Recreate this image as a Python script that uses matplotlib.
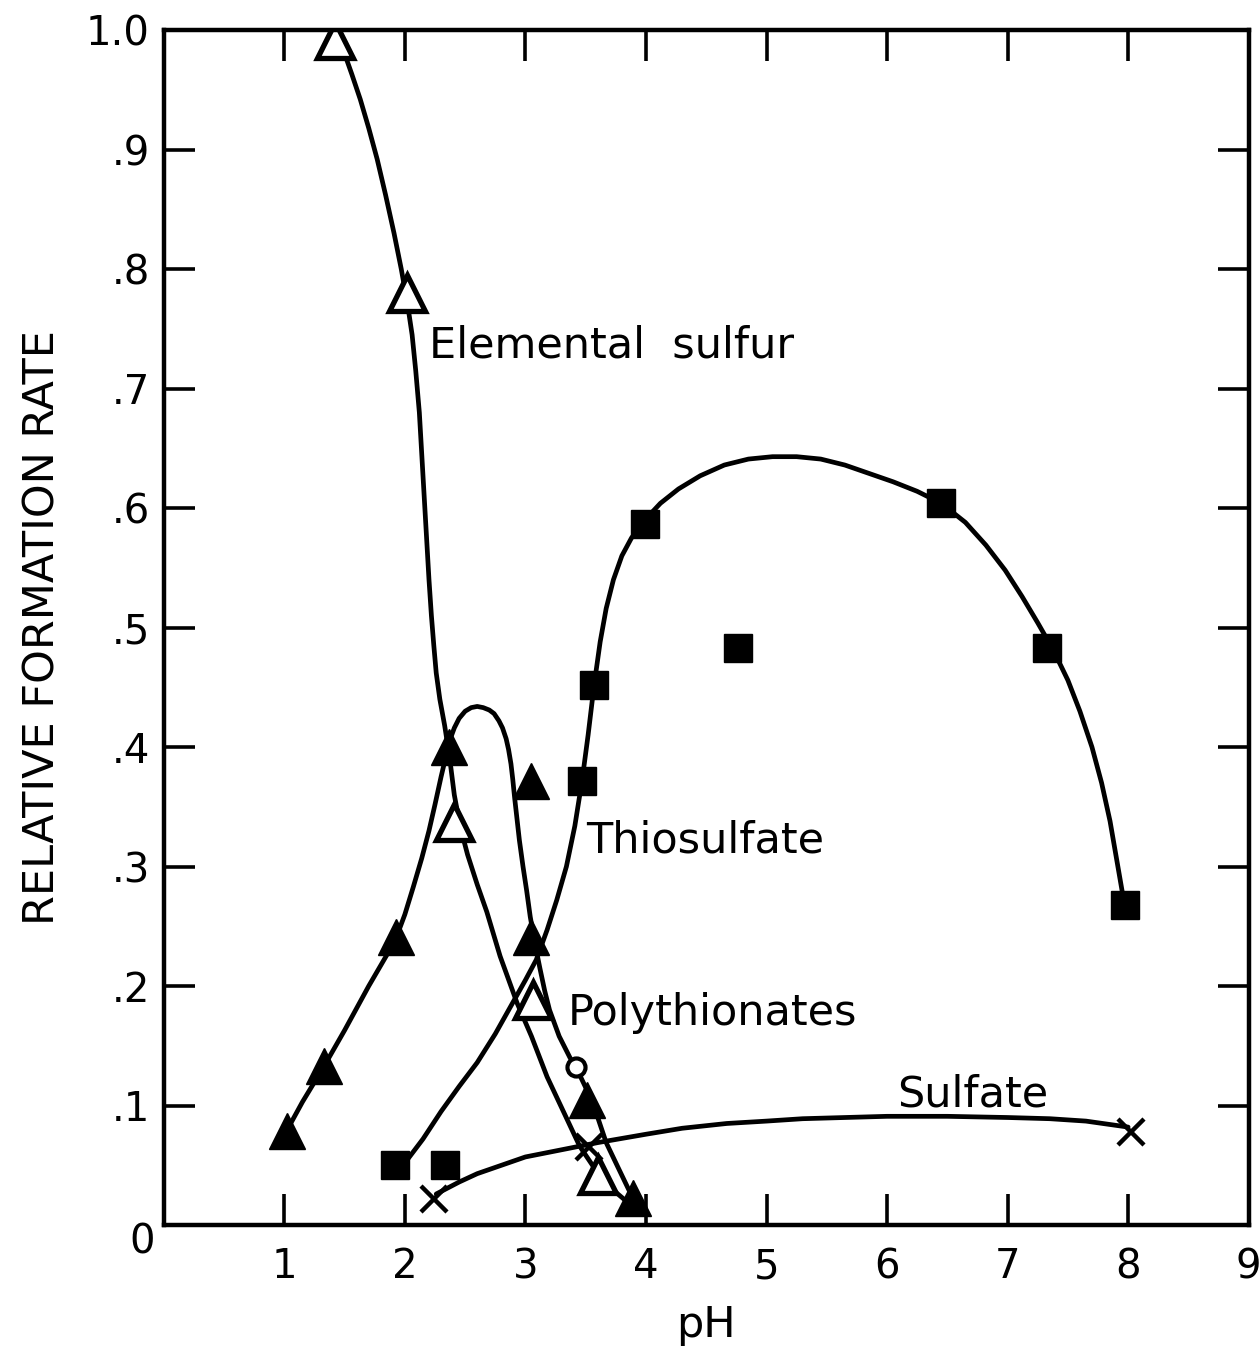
import matplotlib
matplotlib.use('Agg')
import matplotlib.pyplot as plt

plt.rcParams['font.family'] = ['DejaVu Sans']

# --- markers (pH, relative formation rate) ---
s_open_x = [1.42, 2.02, 2.41, 3.06, 3.60]          # elemental sulfur, open triangles
s_open_y = [0.992, 0.78, 0.337, 0.188, 0.042]
poly_x = [1.02, 1.33, 1.93, 2.37, 3.05, 3.05, 3.51, 3.89]   # polythionates, filled triangles
poly_y = [0.079, 0.133, 0.241, 0.40, 0.372, 0.241, 0.105, 0.023]
circ_x = [3.42]
circ_y = [0.132]
thio_x = [1.92, 2.33, 3.47, 3.57, 3.99, 4.76, 6.45, 7.33, 7.97]   # thiosulfate, squares
thio_y = [0.050, 0.050, 0.372, 0.452, 0.587, 0.483, 0.604, 0.483, 0.268]
sulf_x = [2.24, 3.53, 8.02]                          # sulfate, crosses
sulf_y = [0.022, 0.065, 0.078]

# --- hand drawn curves ---
cs_x = [1.42, 1.49, 1.56, 1.63, 1.70, 1.77, 1.84, 1.91, 1.97, 2.02, 2.06, 2.09, 2.12,
        2.14, 2.16, 2.18, 2.20, 2.22, 2.24, 2.26, 2.29, 2.33, 2.37, 2.41, 2.46, 2.52,
        2.60, 2.68, 2.79, 2.93, 3.05, 3.18, 3.32, 3.45, 3.55, 3.62, 3.72, 3.86]
cs_y = [1.0, 0.983, 0.963, 0.942, 0.918, 0.892, 0.862, 0.830, 0.800, 0.772, 0.745,
        0.715, 0.68, 0.645, 0.61, 0.575, 0.54, 0.51, 0.485, 0.462, 0.44, 0.418, 0.392,
        0.360, 0.333, 0.310, 0.285, 0.262, 0.225, 0.186, 0.158, 0.124, 0.094, 0.066,
        0.051, 0.040, 0.030, 0.018]

cp_x = [1.02, 1.15, 1.33, 1.50, 1.70, 1.85, 1.93, 2.00, 2.07, 2.14, 2.20, 2.25, 2.30,
        2.34, 2.37, 2.41, 2.45, 2.50, 2.55, 2.60, 2.65, 2.70, 2.74, 2.78, 2.81, 2.84,
        2.86, 2.88, 2.895, 2.91, 2.93, 2.95, 2.98, 3.01, 3.04, 3.08, 3.12, 3.16, 3.20,
        3.28, 3.37, 3.42, 3.51, 3.60, 3.67, 3.76, 3.86]
cp_y = [0.079, 0.103, 0.133, 0.163, 0.200, 0.226, 0.241, 0.260, 0.283, 0.307, 0.330,
        0.352, 0.375, 0.392, 0.405, 0.416, 0.424, 0.430, 0.433, 0.434, 0.433, 0.431,
        0.428, 0.422, 0.416, 0.407, 0.398, 0.386, 0.373, 0.358, 0.340, 0.322, 0.300,
        0.280, 0.258, 0.235, 0.215, 0.196, 0.180, 0.158, 0.140, 0.132, 0.113, 0.090,
        0.069, 0.050, 0.029]

ct_x = [2.00, 2.15, 2.30, 2.45, 2.60, 2.75, 2.90, 3.00, 3.09, 3.18, 3.26, 3.34, 3.41,
        3.47, 3.52, 3.57, 3.62, 3.67, 3.73, 3.80, 3.88, 3.99, 4.12, 4.27, 4.45, 4.65,
        4.85, 5.05, 5.25, 5.45, 5.65, 5.85, 6.05, 6.25, 6.45, 6.65, 6.82, 6.98, 7.12,
        7.25, 7.38, 7.50, 7.60, 7.70, 7.78, 7.85, 7.91, 7.97]
ct_y = [0.052, 0.072, 0.095, 0.116, 0.136, 0.160, 0.187, 0.205, 0.222, 0.247, 0.272,
        0.300, 0.334, 0.372, 0.410, 0.452, 0.488, 0.516, 0.540, 0.560, 0.575, 0.590,
        0.604, 0.616, 0.627, 0.636, 0.641, 0.643, 0.643, 0.641, 0.636, 0.629, 0.622,
        0.614, 0.604, 0.588, 0.569, 0.548, 0.526, 0.504, 0.481, 0.456, 0.430, 0.400,
        0.370, 0.338, 0.303, 0.268]

csu_x = [2.26, 2.45, 2.60, 2.80, 3.00, 3.30, 3.60, 4.00, 4.30, 4.67, 5.00, 5.30, 5.65,
         6.00, 6.50, 7.00, 7.35, 7.65, 8.00]
csu_y = [0.026, 0.036, 0.043, 0.050, 0.057, 0.063, 0.069, 0.076, 0.081, 0.085, 0.087,
         0.089, 0.090, 0.091, 0.091, 0.090, 0.089, 0.087, 0.082]

xticks = [1, 2, 3, 4, 5, 6, 7, 8, 9]
yticks = [0.1, 0.2, 0.3, 0.4, 0.5, 0.6, 0.7, 0.8, 0.9, 1.0]
ytick_labels = ['.1', '.2', '.3', '.4', '.5', '.6', '.7', '.8', '.9', '1.0']

fig = plt.figure(figsize=(12.6, 13.48), dpi=100)
ax = fig.add_axes([0.130, 0.0912, 0.861, 0.8865])

lw = 3.4
for cx, cy in [(cs_x, cs_y), (cp_x, cp_y), (ct_x, ct_y), (csu_x, csu_y)]:
    ax.plot(cx, cy, color='black', lw=lw, solid_joinstyle='round', solid_capstyle='round', zorder=2)

# the top open triangle is cut off by the frame, as in the original
ax.plot(s_open_x, s_open_y, ls='none', marker='^', ms=26, mfc='white', mec='black', mew=3.8,
        clip_on=True, zorder=3)
ax.plot(poly_x, poly_y, ls='none', marker='^', ms=26, mfc='black', mec='black', clip_on=False, zorder=3)
ax.plot(circ_x, circ_y, ls='none', marker='o', ms=13, mfc='white', mec='black', mew=3, zorder=3)
ax.plot(thio_x, thio_y, ls='none', marker='s', ms=20, mfc='black', mec='black', zorder=3)
ax.plot(sulf_x, sulf_y, ls='none', marker='x', ms=19, mec='black', mew=3.2, zorder=3)

ax.set_xlim(0, 9)
ax.set_ylim(0, 1.0)
ax.set_xticks(xticks)
ax.set_xticklabels([str(v) for v in xticks])
ax.set_yticks(yticks)
ax.set_yticklabels(ytick_labels)
ax.tick_params(direction='in', length=22, width=2.6, top=True, right=True,
               labelsize=29, colors='black')
ax.tick_params(axis='x', pad=16)
ax.tick_params(axis='y', pad=10)
for sp in ax.spines.values():
    sp.set_linewidth(3.2)
    sp.set_zorder(4)

ax.text(-0.18, -0.015, '0', fontsize=29, ha='center', va='center', clip_on=False)

ax.set_xlabel('pH', fontsize=31, labelpad=12)
ax.set_ylabel('RELATIVE FORMATION RATE', fontsize=31, labelpad=16)

ax.text(2.20, 0.726, 'Elemental  sulfur', fontsize=31, ha='left', va='baseline')
ax.text(3.50, 0.312, 'Thiosulfate', fontsize=31, ha='left', va='baseline')
ax.text(3.35, 0.167, 'Polythionates', fontsize=31, ha='left', va='baseline')
ax.text(6.08, 0.099, 'Sulfate', fontsize=31, ha='left', va='baseline')

fig.savefig('out.png', dpi=100)
